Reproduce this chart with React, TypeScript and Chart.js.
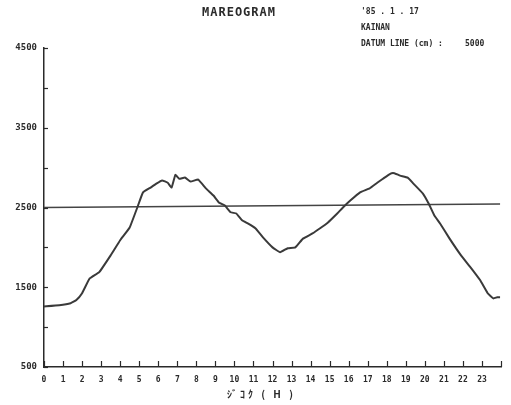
import React, { useEffect, useRef } from "react";
import { Chart, registerables } from "chart.js";

Chart.register(...registerables);

const hours = [0, 0.8, 1.4, 1.7, 2.0, 2.4, 2.9, 3.5, 4.0, 4.5, 4.9, 5.2, 5.6, 5.9, 6.2, 6.5, 6.7, 6.9, 7.1, 7.4, 7.7, 8.1, 8.5, 8.9, 9.2, 9.5, 9.8, 10.1, 10.4, 10.7, 11.1, 11.5, 12.0, 12.4, 12.8, 13.2, 13.6, 14.1, 14.5, 14.9, 15.4, 15.7, 16.1, 16.6, 17.1, 17.5, 17.8, 18.2, 18.4, 18.7, 19.1, 19.4, 19.9, 20.2, 20.5, 20.8, 21.3, 21.9, 22.4, 22.9, 23.3, 23.6, 23.8, 23.95];
const levels = [1260, 1275, 1300, 1340, 1425, 1610, 1690, 1900, 2090, 2250, 2500, 2690, 2750, 2800, 2840, 2810, 2750, 2910, 2860, 2875, 2825, 2850, 2740, 2650, 2560, 2525, 2440, 2425, 2340, 2300, 2240, 2125, 2000, 1940, 1990, 2000, 2110, 2175, 2240, 2310, 2425, 2500, 2590, 2690, 2740, 2810, 2860, 2925, 2930, 2900, 2875, 2800, 2675, 2550, 2400, 2300, 2110, 1900, 1750, 1590, 1425, 1360, 1375, 1375];

const datumHours = [0, 23.95];
const datumLevels = [2500, 2545];

const yLabelValues = [500, 1500, 2500, 3500, 4500];
const title = "MAREOGRAM";
const dateText = "'85 . 1 . 17";
const placeText = "KAINAN";
const datumText = "DATUM LINE (cm) :";
const datumValue = "5000";
const xTitle = "ｼﾞｺｸ ( H )";

const INK = "#2a2a2a";
const MONO = "'DejaVu Sans Mono', 'Liberation Mono', monospace";

const decorPlugin = {
  id: "decor",
  afterDraw(chart: any) {
    const ctx = chart.ctx;
    const xs = chart.scales.x;
    const ys = chart.scales.y;
    const area = chart.chartArea;
    ctx.save();
    ctx.strokeStyle = INK;
    ctx.lineWidth = 1.2;
    for (let v = 500; v <= 4500; v += 500) {
      const py = Math.round(ys.getPixelForValue(v)) + 0.5;
      ctx.beginPath();
      ctx.moveTo(area.left, py);
      ctx.lineTo(area.left + 4, py);
      ctx.stroke();
    }
    for (let h = 0; h <= 24; h += 1) {
      const px = Math.round(xs.getPixelForValue(h)) + 0.5;
      ctx.beginPath();
      ctx.moveTo(px, area.bottom);
      ctx.lineTo(px, area.bottom - 6);
      ctx.stroke();
    }
    ctx.fillStyle = INK;
    ctx.textBaseline = "middle";
    ctx.textAlign = "left";
    ctx.font = `bold 12px ${MONO}`;
    (ctx as any).letterSpacing = "1px";
    ctx.fillText(title, 202, 13);
    (ctx as any).letterSpacing = "0px";
    ctx.font = `bold 8px ${MONO}`;
    ctx.fillText(dateText, 361, 12);
    ctx.fillText(placeText, 361, 28);
    ctx.fillText(datumText, 361, 44);
    ctx.fillText(datumValue, 465, 44);
    ctx.textAlign = "left";
    ctx.font = `bold 10px 'Noto Sans CJK JP', ${MONO}`;
    (ctx as any).letterSpacing = "3px";
    ctx.fillText(xTitle, 227, 394);
    ctx.restore();
  },
};

export default function App() {
  const ref = useRef<HTMLCanvasElement>(null);
  useEffect(() => {
    document.body.style.margin = "0";
    const canvas = ref.current!;
    const chart = new Chart(canvas, {
      type: "line",
      data: {
        datasets: [
          {
            data: hours.map((h, i) => ({ x: h, y: levels[i] })),
            borderColor: "#3a3a3a",
            borderWidth: 2,
            pointRadius: 0,
            tension: 0.1,
          },
          {
            data: datumHours.map((h, i) => ({ x: h, y: datumLevels[i] })),
            borderColor: "#444",
            borderWidth: 1.5,
            pointRadius: 0,
          },
        ],
      },
      options: {
        animation: false,
        responsive: false,
        events: [],
        layout: { padding: { left: 0, top: 48, right: 10, bottom: 0 } },
        plugins: { legend: { display: false }, tooltip: { enabled: false }, title: { display: false } },
        scales: {
          x: {
            type: "linear",
            min: 0,
            max: 24,
            grid: { display: false },
            border: { display: true, color: INK, width: 1.5 },
            ticks: {
              stepSize: 1,
              autoSkip: false,
              maxRotation: 0,
              padding: 0,
              color: INK,
              font: { family: MONO, size: 8, weight: "bold" },
              callback: (v: any) => (v < 24 ? String(v) : ""),
            },
            afterFit: (s: any) => {
              s.height = 38;
            },
          },
          y: {
            type: "linear",
            min: 500,
            max: 4500,
            grid: { display: false, drawTicks: false },
            border: { display: true, color: INK, width: 1.5 },
            ticks: {
              stepSize: 500,
              autoSkip: false,
              padding: 7,
              color: INK,
              font: { family: MONO, size: 9, weight: "bold" },
              callback: (v: any) => (yLabelValues.includes(Number(v)) ? String(v) : ""),
            },
            afterFit: (s: any) => {
              s.width = 44;
            },
          },
        },
      },
      plugins: [decorPlugin],
    });
    return () => chart.destroy();
  }, []);
  return (
    <div style={{ position: "absolute", left: 0, top: 0, width: 511, height: 405, background: "#fff" }}>
      <canvas ref={ref} width={511} height={405} />
    </div>
  );
}
